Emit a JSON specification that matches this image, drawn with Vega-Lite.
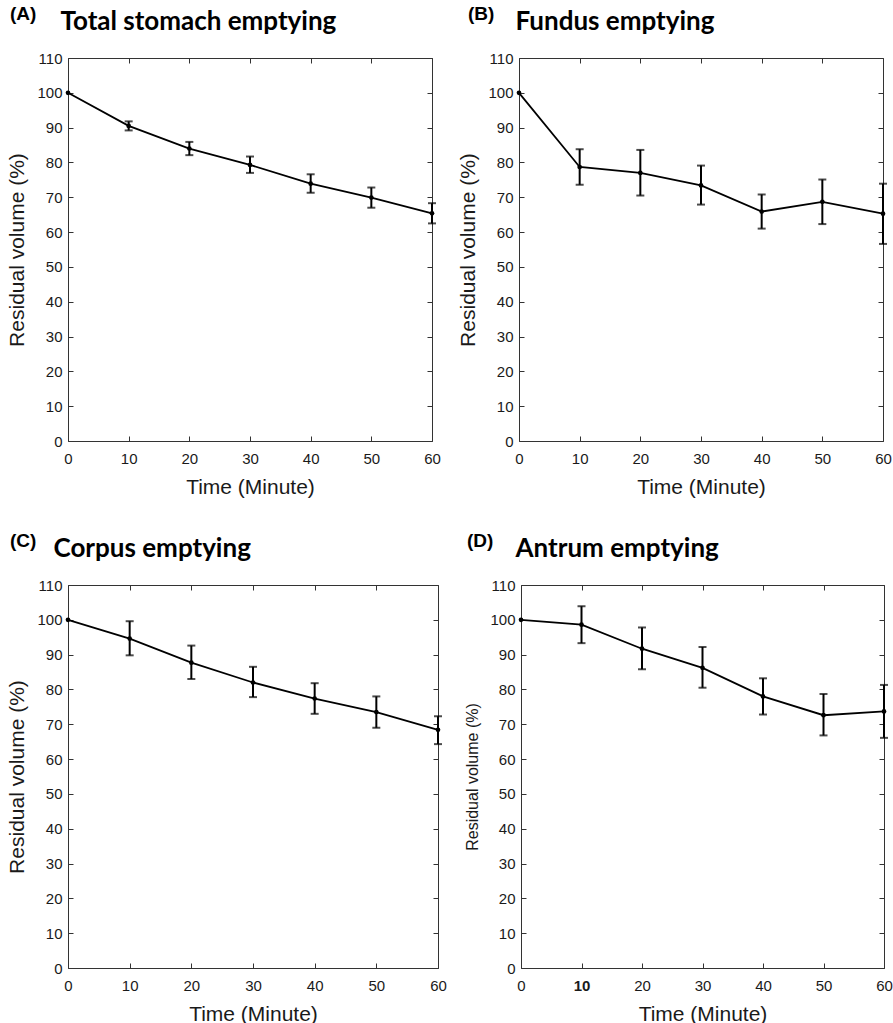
{
  "$schema": "https://vega.github.io/schema/vega-lite/v6.json",
  "background": "white",
  "padding": {"left": 6, "top": 5, "right": 2, "bottom": 0},
  "spacing": 35,
  "datasets": {
    "d": [
      {"panel": "A", "t": 0, "v": 100, "lo": null, "hi": null},
      {"panel": "A", "t": 10, "v": 90.5, "lo": 89.2, "hi": 91.8},
      {"panel": "A", "t": 20, "v": 84.0, "lo": 82.1, "hi": 85.9},
      {"panel": "A", "t": 30, "v": 79.3, "lo": 77.0, "hi": 81.7},
      {"panel": "A", "t": 40, "v": 73.9, "lo": 71.3, "hi": 76.6},
      {"panel": "A", "t": 50, "v": 69.9, "lo": 67.0, "hi": 72.8},
      {"panel": "A", "t": 60, "v": 65.4, "lo": 62.5, "hi": 68.3},
      {"panel": "B", "t": 0, "v": 100, "lo": null, "hi": null},
      {"panel": "B", "t": 10, "v": 78.7, "lo": 73.6, "hi": 83.8},
      {"panel": "B", "t": 20, "v": 77.0, "lo": 70.5, "hi": 83.6},
      {"panel": "B", "t": 30, "v": 73.4, "lo": 67.9, "hi": 79.1},
      {"panel": "B", "t": 40, "v": 65.9, "lo": 61.0, "hi": 70.8},
      {"panel": "B", "t": 50, "v": 68.7, "lo": 62.3, "hi": 75.1},
      {"panel": "B", "t": 60, "v": 65.3, "lo": 56.6, "hi": 73.9},
      {"panel": "C", "t": 0, "v": 100, "lo": null, "hi": null},
      {"panel": "C", "t": 10, "v": 94.6, "lo": 89.8, "hi": 99.6},
      {"panel": "C", "t": 20, "v": 87.7, "lo": 83.0, "hi": 92.6},
      {"panel": "C", "t": 30, "v": 82.0, "lo": 77.8, "hi": 86.5},
      {"panel": "C", "t": 40, "v": 77.4, "lo": 73.0, "hi": 81.8},
      {"panel": "C", "t": 50, "v": 73.5, "lo": 69.0, "hi": 78.0},
      {"panel": "C", "t": 60, "v": 68.4, "lo": 64.3, "hi": 72.3},
      {"panel": "D", "t": 0, "v": 100, "lo": null, "hi": null},
      {"panel": "D", "t": 10, "v": 98.6, "lo": 93.3, "hi": 103.9},
      {"panel": "D", "t": 20, "v": 91.7, "lo": 85.8, "hi": 97.8},
      {"panel": "D", "t": 30, "v": 86.2, "lo": 80.5, "hi": 92.2},
      {"panel": "D", "t": 40, "v": 78.0, "lo": 72.8, "hi": 83.2},
      {"panel": "D", "t": 50, "v": 72.6, "lo": 66.8, "hi": 78.7},
      {"panel": "D", "t": 60, "v": 73.7, "lo": 66.1, "hi": 81.3}
    ]
  },
  "data": {"name": "d"},
  "vconcat": [
    {
      "spacing": 16,
      "hconcat": [
        {
          "width": 364, "height": 383,
          "title": {"text": "(A)", "anchor": "start", "frame": "bounds", "dy": 20, "dx": 3},
          "transform": [{"filter": "datum.panel === 'A'"}],
          "layer": [
            {"mark": {"type": "rule", "color": "black", "strokeWidth": 2},
             "encoding": {
               "x": {"field": "t", "type": "quantitative", "scale": {"domain": [0, 60], "nice": false},
                     "axis": {"orient": "bottom", "values": [0, 10, 20, 30, 40, 50, 60], "title": "Time (Minute)"}},
               "y": {"field": "lo", "type": "quantitative", "scale": {"domain": [0, 110], "nice": false},
                     "axis": {"orient": "left", "values": [0, 10, 20, 30, 40, 50, 60, 70, 80, 90, 100, 110], "title": "Residual volume (%)"}},
               "y2": {"field": "hi"}}},
            {"mark": {"type": "tick", "orient": "horizontal", "color": "black", "size": 8, "thickness": 2},
             "encoding": {"x": {"field": "t", "type": "quantitative", "axis": null}, "y": {"field": "lo", "type": "quantitative", "axis": null}}},
            {"mark": {"type": "tick", "orient": "horizontal", "color": "black", "size": 8, "thickness": 2},
             "encoding": {"x": {"field": "t", "type": "quantitative", "axis": null}, "y": {"field": "hi", "type": "quantitative", "axis": null}}},
            {"mark": {"type": "line", "color": "black", "strokeWidth": 1.8},
             "encoding": {
               "x": {"field": "t", "type": "quantitative", "axis": {"orient": "top", "labels": false, "values": [0, 10, 20, 30, 40, 50, 60], "title": "Total stomach emptying", "titleFont": "Lato", "titleFontSize": 26, "titleFontWeight": "bold", "titleColor": "black", "titleAnchor": "start", "titleAlign": "left", "titleX": -8, "titleY": -29, "titleBaseline": "alphabetic"}},
               "y": {"field": "v", "type": "quantitative", "axis": {"orient": "right", "labels": false, "title": null, "values": [0, 10, 20, 30, 40, 50, 60, 70, 80, 90, 100, 110]}}}},
            {"mark": {"type": "point", "filled": true, "color": "black", "size": 22, "opacity": 1},
             "encoding": {"x": {"field": "t", "type": "quantitative", "axis": null}, "y": {"field": "v", "type": "quantitative", "axis": null}}}
          ],
          "resolve": {"axis": {"x": "independent", "y": "independent"}}
        },
        {
          "width": 364, "height": 383,
          "title": {"text": "(B)", "anchor": "start", "frame": "bounds", "dy": 20, "dx": 10},
          "transform": [{"filter": "datum.panel === 'B'"}],
          "layer": [
            {"mark": {"type": "rule", "color": "black", "strokeWidth": 2},
             "encoding": {
               "x": {"field": "t", "type": "quantitative", "scale": {"domain": [0, 60], "nice": false},
                     "axis": {"orient": "bottom", "values": [0, 10, 20, 30, 40, 50, 60], "title": "Time (Minute)"}},
               "y": {"field": "lo", "type": "quantitative", "scale": {"domain": [0, 110], "nice": false},
                     "axis": {"orient": "left", "values": [0, 10, 20, 30, 40, 50, 60, 70, 80, 90, 100, 110], "title": "Residual volume (%)"}},
               "y2": {"field": "hi"}}},
            {"mark": {"type": "tick", "orient": "horizontal", "color": "black", "size": 8, "thickness": 2},
             "encoding": {"x": {"field": "t", "type": "quantitative", "axis": null}, "y": {"field": "lo", "type": "quantitative", "axis": null}}},
            {"mark": {"type": "tick", "orient": "horizontal", "color": "black", "size": 8, "thickness": 2},
             "encoding": {"x": {"field": "t", "type": "quantitative", "axis": null}, "y": {"field": "hi", "type": "quantitative", "axis": null}}},
            {"mark": {"type": "line", "color": "black", "strokeWidth": 1.8},
             "encoding": {
               "x": {"field": "t", "type": "quantitative", "axis": {"orient": "top", "labels": false, "values": [0, 10, 20, 30, 40, 50, 60], "title": "Fundus emptying", "titleFont": "Lato", "titleFontSize": 26, "titleFontWeight": "bold", "titleColor": "black", "titleAnchor": "start", "titleAlign": "left", "titleX": -4, "titleY": -29, "titleBaseline": "alphabetic"}},
               "y": {"field": "v", "type": "quantitative", "axis": {"orient": "right", "labels": false, "title": null, "values": [0, 10, 20, 30, 40, 50, 60, 70, 80, 90, 100, 110]}}}},
            {"mark": {"type": "point", "filled": true, "color": "black", "size": 22, "opacity": 1},
             "encoding": {"x": {"field": "t", "type": "quantitative", "axis": null}, "y": {"field": "v", "type": "quantitative", "axis": null}}}
          ],
          "resolve": {"axis": {"x": "independent", "y": "independent"}}
        }
      ]
    },
    {
      "spacing": 17,
      "hconcat": [
        {
          "width": 370, "height": 383,
          "title": {"text": "(C)", "anchor": "start", "frame": "bounds", "dy": 20, "dx": 3},
          "transform": [{"filter": "datum.panel === 'C'"}],
          "layer": [
            {"mark": {"type": "rule", "color": "black", "strokeWidth": 2},
             "encoding": {
               "x": {"field": "t", "type": "quantitative", "scale": {"domain": [0, 60], "nice": false},
                     "axis": {"orient": "bottom", "values": [0, 10, 20, 30, 40, 50, 60], "title": "Time (Minute)"}},
               "y": {"field": "lo", "type": "quantitative", "scale": {"domain": [0, 110], "nice": false},
                     "axis": {"orient": "left", "values": [0, 10, 20, 30, 40, 50, 60, 70, 80, 90, 100, 110], "title": "Residual volume (%)"}},
               "y2": {"field": "hi"}}},
            {"mark": {"type": "tick", "orient": "horizontal", "color": "black", "size": 8, "thickness": 2},
             "encoding": {"x": {"field": "t", "type": "quantitative", "axis": null}, "y": {"field": "lo", "type": "quantitative", "axis": null}}},
            {"mark": {"type": "tick", "orient": "horizontal", "color": "black", "size": 8, "thickness": 2},
             "encoding": {"x": {"field": "t", "type": "quantitative", "axis": null}, "y": {"field": "hi", "type": "quantitative", "axis": null}}},
            {"mark": {"type": "line", "color": "black", "strokeWidth": 1.8},
             "encoding": {
               "x": {"field": "t", "type": "quantitative", "axis": {"orient": "top", "labels": false, "values": [0, 10, 20, 30, 40, 50, 60], "title": "Corpus emptying", "titleFont": "Lato", "titleFontSize": 26, "titleFontWeight": "bold", "titleColor": "black", "titleAnchor": "start", "titleAlign": "left", "titleX": -15, "titleY": -29, "titleBaseline": "alphabetic"}},
               "y": {"field": "v", "type": "quantitative", "axis": {"orient": "right", "labels": false, "title": null, "values": [0, 10, 20, 30, 40, 50, 60, 70, 80, 90, 100, 110]}}}},
            {"mark": {"type": "point", "filled": true, "color": "black", "size": 22, "opacity": 1},
             "encoding": {"x": {"field": "t", "type": "quantitative", "axis": null}, "y": {"field": "v", "type": "quantitative", "axis": null}}}
          ],
          "resolve": {"axis": {"x": "independent", "y": "independent"}}
        },
        {
          "width": 363, "height": 383,
          "title": {"text": "(D)", "anchor": "start", "frame": "bounds", "dy": 20, "dx": 2},
          "transform": [{"filter": "datum.panel === 'D'"}],
          "layer": [
            {"mark": {"type": "rule", "color": "black", "strokeWidth": 2},
             "encoding": {
               "x": {"field": "t", "type": "quantitative", "scale": {"domain": [0, 60], "nice": false},
                     "axis": {"orient": "bottom", "values": [0, 10, 20, 30, 40, 50, 60], "title": "Time (Minute)",
                              "labelFontWeight": {"condition": {"test": "datum.value === 10", "value": "bold"}, "value": "normal"}}},
               "y": {"field": "lo", "type": "quantitative", "scale": {"domain": [0, 110], "nice": false},
                     "axis": {"orient": "left", "values": [0, 10, 20, 30, 40, 50, 60, 70, 80, 90, 100, 110], "title": "Residual volume (%)", "titleFontSize": 16}},
               "y2": {"field": "hi"}}},
            {"mark": {"type": "tick", "orient": "horizontal", "color": "black", "size": 8, "thickness": 2},
             "encoding": {"x": {"field": "t", "type": "quantitative", "axis": null}, "y": {"field": "lo", "type": "quantitative", "axis": null}}},
            {"mark": {"type": "tick", "orient": "horizontal", "color": "black", "size": 8, "thickness": 2},
             "encoding": {"x": {"field": "t", "type": "quantitative", "axis": null}, "y": {"field": "hi", "type": "quantitative", "axis": null}}},
            {"mark": {"type": "line", "color": "black", "strokeWidth": 1.8},
             "encoding": {
               "x": {"field": "t", "type": "quantitative", "axis": {"orient": "top", "labels": false, "values": [0, 10, 20, 30, 40, 50, 60], "title": "Antrum emptying", "titleFont": "Lato", "titleFontSize": 26, "titleFontWeight": "bold", "titleColor": "black", "titleAnchor": "start", "titleAlign": "left", "titleX": -6, "titleY": -29, "titleBaseline": "alphabetic"}},
               "y": {"field": "v", "type": "quantitative", "axis": {"orient": "right", "labels": false, "title": null, "values": [0, 10, 20, 30, 40, 50, 60, 70, 80, 90, 100, 110]}}}},
            {"mark": {"type": "point", "filled": true, "color": "black", "size": 22, "opacity": 1},
             "encoding": {"x": {"field": "t", "type": "quantitative", "axis": null}, "y": {"field": "v", "type": "quantitative", "axis": null}}}
          ],
          "resolve": {"axis": {"x": "independent", "y": "independent"}}
        }
      ]
    }
  ],
  "config": {
    "view": {"stroke": null},
    "axis": {
      "grid": false,
      "labelFont": "Liberation Sans",
      "labelFontSize": 15,
      "labelColor": "#1a1a1a",
      "titleFont": "Liberation Sans",
      "titleFontSize": 21,
      "titleFontWeight": "normal",
      "titleColor": "#1a1a1a",
      "domainColor": "#333333",
      "domainWidth": 1,
      "tickColor": "#333333",
      "tickSize": -5,
      "labelFlush": false,
      "labelOverlap": false
    },
    "axisX": {"titlePadding": 10, "labelPadding": 15},
    "axisY": {"titlePadding": 9, "labelPadding": 11},
    "title": {"font": "Liberation Sans", "fontSize": 19, "fontWeight": "bold", "color": "black", "baseline": "alphabetic", "offset": 0}
  }
}
